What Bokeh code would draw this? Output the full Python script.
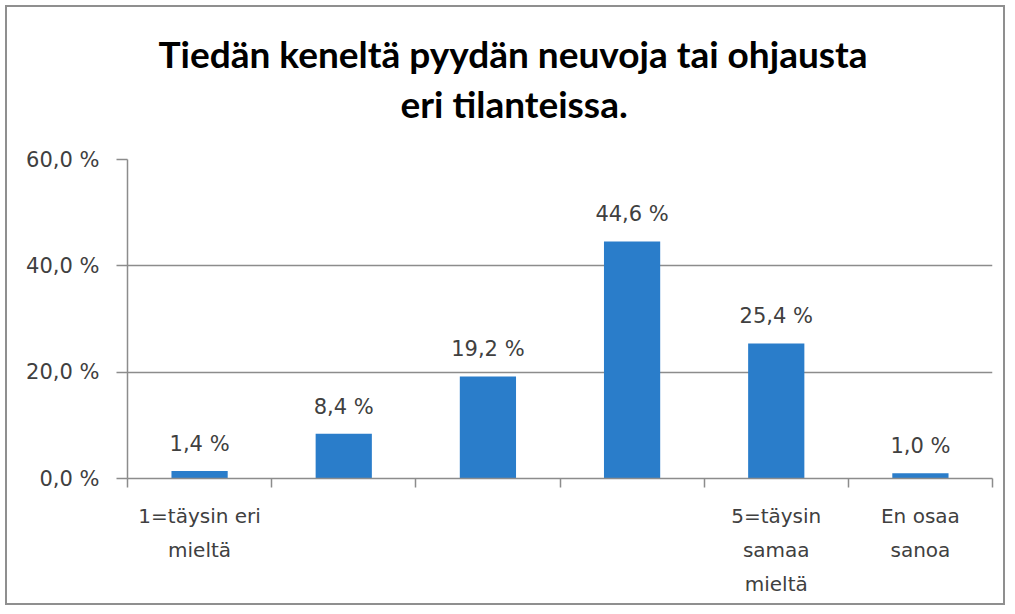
from bokeh.plotting import figure
from bokeh.models import Range1d, FixedTicker, Title, ColumnDataSource, LinearAxis
from bokeh.core.properties import value
from bokeh.embed import file_html
from bokeh.resources import INLINE

title_lines = ["Tiedän keneltä pyydän neuvoja tai ohjausta", "eri tilanteissa."]
label_line1 = ["1=täysin eri", "", "", "", "5=täysin", "En osaa"]
label_line2 = ["mieltä", "", "", "", "samaa", "sanoa"]
label_line3 = ["", "", "", "", "mieltä", ""]
values = [1.4, 8.4, 19.2, 44.6, 25.4, 1.0]
y_ticks = [0, 20, 40, 60]

FONT = "DejaVu Sans"
TFONT = "Lato"
TXT = "#404040"
GRID = "#8c8c8c"
BAR = "#2a7dca"

xs = list(range(1, len(values) + 1))
labels = [f"{v:.1f}".replace(".", ",") + " %" for v in values]
src = ColumnDataSource(dict(x=xs, top=values, label=labels))

p = figure(width=1000, height=600, output_backend="svg", toolbar_location=None,
           x_range=Range1d(0.5, len(values) + 0.5), y_range=Range1d(0, 60),
           min_border_left=120, min_border_right=15, min_border_top=152, min_border_bottom=129)
p.styles = {"border": "2px solid #8f8f8f", "margin-left": "5px", "margin-top": "5px"}
p.outline_line_color = None
p.background_fill_color = "white"

p.vbar(x="x", top="top", width=0.39, source=src, fill_color=BAR, line_color=None)
p.text(x="x", y="top", text="label", source=src, text_align="center", text_baseline="bottom",
       y_offset=-15, text_font=value(FONT), text_font_size="21px", text_color=TXT)

# y axis
p.yaxis.ticker = FixedTicker(ticks=y_ticks)
p.yaxis.major_label_overrides = {t: f"{t:.1f}".replace(".", ",") + " %" for t in y_ticks}
p.yaxis.axis_line_color = GRID
p.yaxis.axis_line_width = 1.5
p.yaxis.major_tick_line_color = GRID
p.yaxis.major_tick_line_width = 1.5
p.yaxis.major_tick_out = 11
p.yaxis.major_tick_in = 0
p.yaxis.minor_tick_line_color = None
p.yaxis.major_label_standoff = 17
p.yaxis.major_label_text_font = FONT
p.yaxis.major_label_text_font_size = "21px"
p.yaxis.major_label_text_color = TXT

# x axis (tick marks at category boundaries + first label line)
p.xaxis.ticker = FixedTicker(ticks=xs, minor_ticks=[x - 0.5 for x in xs] + [xs[-1] + 0.5])
p.xaxis.major_label_overrides = {x: c for x, c in zip(xs, label_line1)}
p.xaxis.axis_line_color = GRID
p.xaxis.axis_line_width = 1.5
p.xaxis.major_tick_line_color = None
p.xaxis.major_tick_out = 0
p.xaxis.major_tick_in = 0
p.xaxis.minor_tick_line_color = GRID
p.xaxis.minor_tick_line_width = 1.5
p.xaxis.minor_tick_out = 9
p.xaxis.minor_tick_in = 0
p.xaxis.major_label_standoff = 16
p.xaxis.major_label_text_font = FONT
p.xaxis.major_label_text_font_size = "20px"
p.xaxis.major_label_text_color = TXT

for line in (label_line2, label_line3):
    ax = LinearAxis(ticker=FixedTicker(ticks=xs),
                    major_label_overrides={x: c for x, c in zip(xs, line)})
    ax.axis_line_color = None
    ax.major_tick_line_color = None
    ax.minor_tick_line_color = None
    ax.major_tick_out = 0
    ax.major_tick_in = 0
    ax.major_label_standoff = 7
    ax.major_label_text_font = FONT
    ax.major_label_text_font_size = "20px"
    ax.major_label_text_color = TXT
    p.add_layout(ax, "below")

p.xgrid.grid_line_color = None
p.ygrid.grid_line_color = GRID
p.ygrid.grid_line_width = 1.5

# title (two lines, added from the plot outward)
p.add_layout(Title(text=" ", text_font_size="20px", standoff=10), "above")
p.add_layout(Title(text=title_lines[1], align="left", offset=273, standoff=0,
                   text_font=TFONT, text_font_style="bold", text_font_size="37px",
                   text_color="black"), "above")
p.add_layout(Title(text=title_lines[0], align="left", offset=31, standoff=6,
                   text_font=TFONT, text_font_style="bold", text_font_size="37px",
                   text_color="black"), "above")

open("out.html", "w").write(file_html(p, INLINE))
